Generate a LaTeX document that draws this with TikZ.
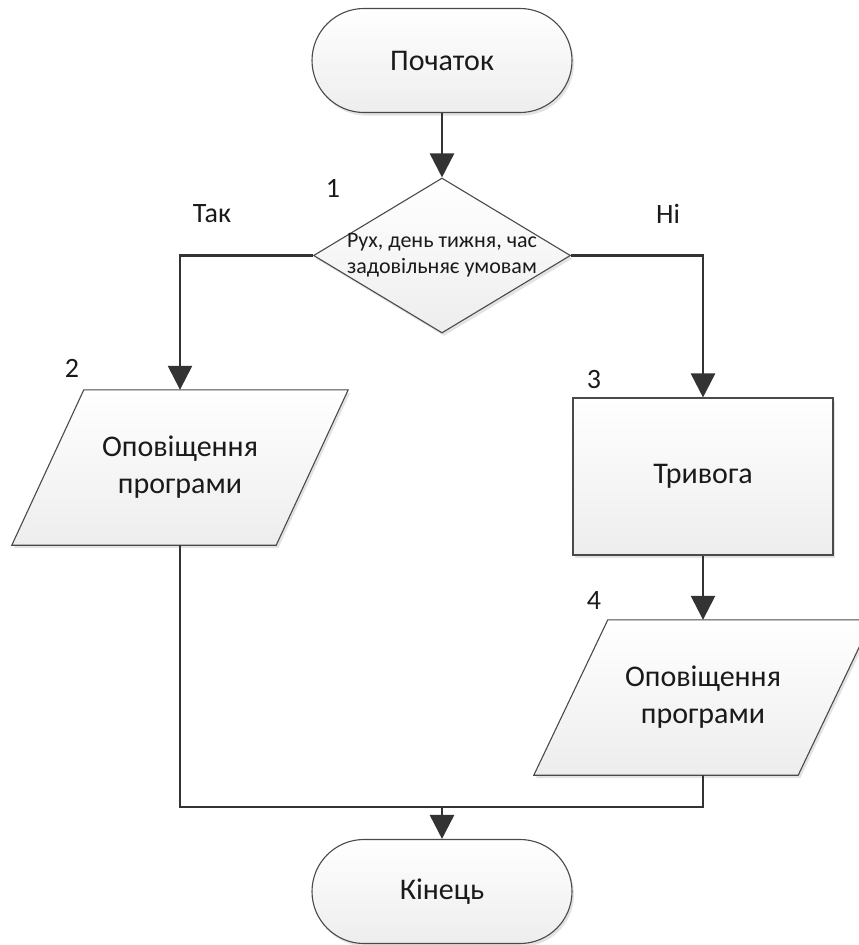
\documentclass[tikz,border=0pt]{standalone}
\usepackage{fontspec}
\setmainfont{Carlito}
\usetikzlibrary{shapes.geometric,shapes.misc,arrows.meta,shadows,calc,backgrounds}

\definecolor{edge}{HTML}{4A4A4A}
\definecolor{wire}{HTML}{333333}
\definecolor{ink}{HTML}{1A1A1A}

\tikzset{
  skin/.style={draw=edge, line width=1.1pt, top color=white, bottom color=gray!14,
    drop shadow={shadow xshift=2pt, shadow yshift=-3pt, opacity=0.22, fill=gray}},
  block/.style={skin, text=ink, align=center, inner sep=0pt},
  terminal/.style={block, rounded rectangle, minimum width=260pt, minimum height=104pt},
  decision/.style={block, diamond, minimum width=257pt, minimum height=155pt},
  process/.style={block, rectangle, minimum width=260pt, minimum height=157pt},
  % frame for an input/output box; the slanted outline is drawn behind it
  iobox/.style={rectangle, inner sep=0pt, minimum width=264pt, minimum height=155pt},
  txt/.style={text=ink, font=\fontsize{30}{37}\selectfont, align=center},
  small/.style={text=ink, font=\fontsize{22}{26}\selectfont, align=center},
  tag/.style={text=ink, font=\fontsize{28}{32}\selectfont},
  flow/.style={draw=wire, line width=2.6pt, line join=miter},
  arrow/.style={flow, -{Triangle[width=24pt,length=24pt]}}
}

% slanted outline around an iobox node, offset = half the slant
\newcommand{\slantbox}[2]{%
  \path[skin] ($(#1.north west)+(#2,0)$) -- ($(#1.north east)+(#2,0)$)
    -- ($(#1.south east)+(-#2,0)$) -- ($(#1.south west)+(-#2,0)$) -- cycle;}

\begin{document}
\begin{tikzpicture}[x=1pt, y=-1pt]
  \useasboundingbox (0,0) rectangle (859,945);
  \clip (0,0) rectangle (859,945);

  % shapes
  \node[terminal] (start) at (442,60.5) {};
  \node[decision] (dec) at (442,255.5) {};
  \node[iobox, txt] (out1) at (180,467.5) {Оповіщення\\програми};
  \node[process] (alarm) at (703,476.5) {};
  \node[iobox, txt] (out2) at (703,697.5) {Оповіщення\\програми};
  \node[terminal] (stop) at (442,891.5) {};

  \begin{pgfonlayer}{background}
    \slantbox{out1}{36}
    \slantbox{out2}{37}
  \end{pgfonlayer}

  % texts inside the shapes
  \node[txt] (startT) at (start) {Початок};
  \node[small] (decT) at (dec) {Рух, день тижня, час\\задовільняє умовам};
  \node[txt] (alarmT) at (alarm) {Тривога};
  \node[txt] (stopT) at (stop) {Кінець};

  % step numbers and branch labels
  \node[tag] (n1) at (333,188) {1};
  \node[tag] (n2) at (72,368) {2};
  \node[tag] (n3) at (594,380) {3};
  \node[tag] (n4) at (594,601) {4};
  \node[tag] (yes) at (212,214) {Так};
  \node[tag] (no) at (668,214) {Ні};

  % connectors
  \coordinate (join) at (442,807);
  \draw[arrow] (start.south) -- (dec.north);
  \draw[arrow] (dec.west) -| (out1.north);
  \draw[arrow] (dec.east) -| (alarm.north);
  \draw[arrow] (alarm.south) -- (out2.north);
  \draw[flow] (out1.south) |- (join);
  \draw[flow] (out2.south) |- (join);
  \draw[arrow] (join) -- (stop.north);
\end{tikzpicture}
\end{document}
